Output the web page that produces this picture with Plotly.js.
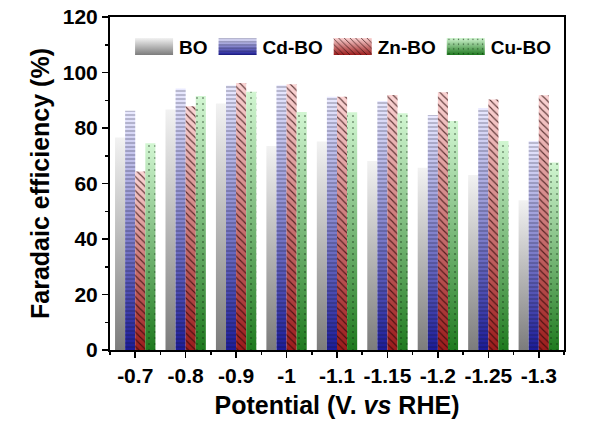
<!DOCTYPE html>
<html>
<head>
<meta charset="utf-8">
<script src="https://cdn.plot.ly/plotly-3.0.1.min.js"></script>
<style>
  body { margin: 0; background: #fff; }
  #chart { width: 600px; height: 427px; }
</style>
</head>
<body>
<div id="chart"></div>
<script>
// potentials (V vs RHE)
const potentials = ["-0.7", "-0.8", "-0.9", "-1", "-1.1", "-1.15", "-1.2", "-1.25", "-1.3"];

// faradaic efficiency (%)
const feBO   = [76.6, 86.7, 88.8, 73.5, 75.1, 68.1, 65.7, 63.1, 54.0];
const feCdBO = [86.2, 94.2, 95.3, 95.4, 91.3, 89.7, 84.7, 87.2, 75.3];
const feZnBO = [64.3, 87.8, 96.2, 95.8, 91.3, 91.9, 92.9, 90.3, 91.8];
const feCuBO = [74.5, 91.5, 93.1, 85.8, 85.7, 85.3, 82.5, 75.3, 67.6];

const xIdx = potentials.map((_, i) => i);

// name, values, pattern, gradient top/bottom
const series = [
    { name: "BO",    y: feBO,   shape: "",   size: 6, solidity: 0.2,  op: 0.75, fg: "#000000", top: "#f2f2f2", bottom: "#7c7c7c" },
    { name: "Cd-BO", y: feCdBO, shape: "-",  size: 4, solidity: 0.2,  op: 0.55, fg: "#10102a", top: "#eaeaff", bottom: "#1c1c98" },
    { name: "Zn-BO", y: feZnBO, shape: "\\", size: 5, solidity: 0.22, op: 0.75, fg: "#2a0808", top: "#fbd4d4", bottom: "#9c1c1c" },
    { name: "Cu-BO", y: feCuBO, shape: ".",  size: 6, solidity: 0.06, op: 0.75, fg: "#062006", top: "#d2f6d2", bottom: "#1f7a1f" },
];

const traces = series.map(s => ({
    type: 'bar',
    name: s.name,
    x: xIdx,
    y: s.y,
    marker: {
        // the visible fill is the gradient put underneath in addGradients
        color: s.shape ? s.fg : 'rgba(0,0,0,0)',
        line: { width: 0 },
        pattern: {
            shape: s.shape,
            fillmode: 'replace',
            fgcolor: s.fg,
            fgopacity: s.op,
            bgcolor: 'rgba(0,0,0,0)',
            size: s.size,
            solidity: s.solidity,
        },
    },
    hoverinfo: 'skip',
}));

const font = { family: '"Liberation Sans", Arial, sans-serif', color: '#000', weight: 'bold' };

const layout = {
    width: 600,
    height: 427,
    margin: { l: 110, r: 36, t: 17, b: 77 },
    paper_bgcolor: '#fff',
    plot_bgcolor: '#fff',
    barmode: 'group',
    bargap: 0.2,
    bargroupgap: 0,
    showlegend: true,
    legend: {
        orientation: 'h',
        x: 0.042,
        y: 0.968,
        xanchor: 'left',
        yanchor: 'top',
        bgcolor: 'rgba(0,0,0,0)',
        font: Object.assign({}, font, { size: 19 }),
        itemwidth: 40,
        traceorder: 'normal',
    },
    xaxis: {
        type: 'linear',
        range: [-0.5, 8.5],
        tickvals: xIdx,
        ticktext: potentials,
        ticks: 'outside',
        ticklen: 6,
        tickwidth: 1.5,
        tickcolor: '#000',
        showline: true,
        linewidth: 2,
        linecolor: '#000',
        mirror: true,
        showgrid: false,
        zeroline: false,
        tickfont: Object.assign({}, font, { size: 21 }),
        minor: { tick0: 0.5, dtick: 1, ticks: 'outside', ticklen: 3, tickwidth: 1.5, tickcolor: '#000', showgrid: false },
        title: { text: 'Potential (V. <i>vs</i> RHE)', font: Object.assign({}, font, { size: 25 }), standoff: 10 },
    },
    yaxis: {
        range: [0, 120],
        dtick: 20,
        ticks: 'outside',
        ticklen: 6,
        tickwidth: 1.5,
        tickcolor: '#000',
        showline: true,
        linewidth: 2,
        linecolor: '#000',
        mirror: true,
        showgrid: false,
        zeroline: false,
        tickfont: Object.assign({}, font, { size: 21 }),
        minor: { dtick: 10, ticks: 'outside', ticklen: 3, tickwidth: 1.5, tickcolor: '#000', showgrid: false },
        title: { text: 'Faradaic efficiency (%)', font: Object.assign({}, font, { size: 25 }), standoff: 6 },
    },
};

const config = { staticPlot: true, displayModeBar: false };

// Plotly has no gradient fill for bars, so put an svg gradient copy under each bar
function addGradients(gd) {
    const svg = gd.querySelector('svg.main-svg');
    const ns = 'http://www.w3.org/2000/svg';
    let defs = svg.querySelector('defs');
    series.forEach((s, i) => {
        const g = document.createElementNS(ns, 'linearGradient');
        g.setAttribute('id', 'fegrad' + i);
        g.setAttribute('x1', '0'); g.setAttribute('y1', '0');
        g.setAttribute('x2', '0'); g.setAttribute('y2', '1');
        [[0, s.top], [1, s.bottom]].forEach(([o, c]) => {
            const st = document.createElementNS(ns, 'stop');
            st.setAttribute('offset', o);
            st.setAttribute('stop-color', c);
            g.appendChild(st);
        });
        defs.appendChild(g);
    });

    const under = (p, i) => {
        const c = p.cloneNode(false);
        c.style.fill = 'url(#fegrad' + i + ')';
        c.style.fillOpacity = 1;
        c.style.stroke = 'none';
        p.parentNode.insertBefore(c, p);
    };
    gd.querySelectorAll('.barlayer .trace.bars').forEach((tr, i) => {
        tr.querySelectorAll('path').forEach(p => under(p, i));
    });
    gd.querySelectorAll('.legend .traces').forEach((tr, i) => {
        tr.querySelectorAll('.legendpoints path').forEach(p => {
            p.setAttribute('d', 'M-19,-8.5h38v17h-38Z');
            under(p, i);
        });
    });
}

Plotly.newPlot('chart', traces, layout, config).then(addGradients);
</script>
</body>
</html>
